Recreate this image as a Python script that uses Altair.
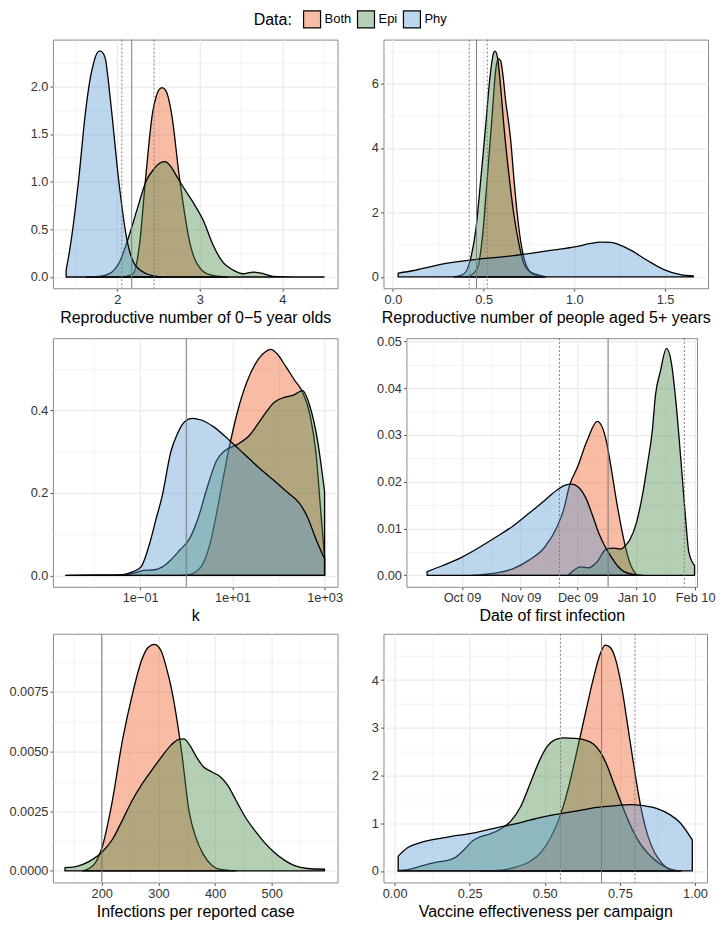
import json
import altair as alt
import pandas as pd

FONT = "Liberation Sans"
SERIES = ["Both", "Epi", "Phy"]
FILLS = {"Both": "#ed5519", "Epi": "#468746", "Phy": "#5798d4"}
LEGEND_FILLS = ["#f8bba3", "#b5cfb5", "#bcd6ee"]

# ---------------- Panel 1: Reproductive number of 0-5 year olds ----------------
p1_both_x = [2.062, 2.190, 2.270, 2.343, 2.427, 2.471, 2.507, 2.544, 2.591, 2.657, 2.755, 2.883, 3.029, 3.157, 3.339]
p1_both_y = [0.0, 0.034, 0.344, 1.031, 1.718, 1.890, 1.966, 1.986, 1.952, 1.718, 1.031, 0.344, 0.069, 0.017, 0.0]
p1_epi_x = [1.624, 1.807, 1.916, 2.026, 2.135, 2.245, 2.354, 2.445, 2.518, 2.580, 2.646, 2.719, 2.810, 2.938,
            3.047, 3.157, 3.266, 3.412, 3.522, 3.650, 3.777, 3.887, 4.252, 4.507]
p1_epi_y = [0.0, 0.010, 0.041, 0.155, 0.412, 0.722, 1.014, 1.134, 1.196, 1.210, 1.162, 1.058, 0.928, 0.756,
            0.584, 0.344, 0.172, 0.069, 0.034, 0.052, 0.034, 0.007, 0.001, 0.0]
p1_phy_x = [1.380, 1.405, 1.434, 1.533, 1.613, 1.668, 1.715, 1.752, 1.788, 1.832, 1.861, 1.891, 1.934, 2.015,
            2.128, 2.208, 2.354, 2.536]
p1_phy_y = [0.076, 0.19, 0.344, 1.031, 1.718, 2.062, 2.251, 2.344, 2.371, 2.344, 2.268, 2.062, 1.718, 1.031,
            0.344, 0.137, 0.034, 0.0]

# ---------------- Panel 2: Reproductive number of people aged 5+ ----------------
p2_both_x = [0.410, 0.465, 0.493, 0.520, 0.548, 0.566, 0.581, 0.594, 0.608, 0.621, 0.636, 0.649, 0.667, 0.686,
             0.704, 0.726, 0.750, 0.787, 0.833]
p2_both_y = [0.0, 0.25, 1.22, 3.05, 5.08, 6.40, 6.77, 6.70, 6.19, 5.48, 4.87, 4.26, 3.05, 1.93, 1.12, 0.51,
             0.20, 0.05, 0.0]
p2_epi_x = [0.336, 0.392, 0.428, 0.456, 0.483, 0.511, 0.535, 0.553, 0.562, 0.575, 0.594, 0.612, 0.640, 0.667,
            0.695, 0.722, 0.759, 0.796, 0.842]
p2_epi_y = [0.0, 0.10, 0.56, 1.42, 2.94, 4.67, 6.19, 6.90, 7.00, 6.85, 5.89, 4.67, 3.15, 1.93, 1.02, 0.41,
            0.15, 0.07, 0.0]
p2_phy_x = [0.029, 0.116, 0.208, 0.300, 0.392, 0.483, 0.575, 0.667, 0.759, 0.851, 0.943, 1.017, 1.090, 1.145,
            1.200, 1.256, 1.311, 1.403, 1.494, 1.586, 1.656]
p2_phy_y = [0.12, 0.20, 0.32, 0.43, 0.50, 0.56, 0.61, 0.66, 0.73, 0.81, 0.88, 0.95, 1.04, 1.08, 1.07, 0.98,
            0.83, 0.51, 0.23, 0.07, 0.03]

# ---------------- Panel 3: k (log scale) ----------------
p3_both_x = [0.734, 1.15, 2.11, 3.32, 5.22, 8.22, 12.9, 20.3, 32.0, 50.4, 68.1, 92.1, 145, 228, 332, 484, 655,
             822, 1000]
p3_both_y = [0.0, 0.002, 0.022, 0.079, 0.186, 0.301, 0.396, 0.466, 0.513, 0.540, 0.547, 0.537, 0.505, 0.471,
             0.444, 0.388, 0.293, 0.158, 0.044]
p3_epi_x = [0.00244, 0.0417, 0.0762, 0.120, 0.188, 0.297, 0.467, 0.734, 1.15, 1.81, 2.86, 4.49, 7.06, 12.9,
            23.6, 43.3, 79.1, 145, 211, 332, 484, 707, 1000]
p3_epi_y = [0.0, 0.0, 0.006, 0.012, 0.013, 0.020, 0.038, 0.062, 0.087, 0.139, 0.214, 0.277, 0.303, 0.317,
            0.339, 0.380, 0.418, 0.432, 0.436, 0.447, 0.408, 0.325, 0.202]
p3_phy_x = [0.00244, 0.0092, 0.0417, 0.0655, 0.103, 0.162, 0.219, 0.297, 0.467, 0.631, 0.920, 1.34, 2.11, 3.87,
            8.22, 17.5, 37.2, 79.1, 168, 286, 417, 655, 1000]
p3_phy_y = [0.0, 0.001, 0.002, 0.008, 0.020, 0.079, 0.135, 0.190, 0.301, 0.341, 0.372, 0.380, 0.376, 0.360,
            0.329, 0.295, 0.261, 0.230, 0.198, 0.174, 0.143, 0.087, 0.040]

# ---------------- Panel 4: Date of first infection (days after 1 Oct 2009) ----------------
p4_both_x = [5.0, 18.4, 26.8, 35.2, 43.6, 50.3, 53.6, 56.8, 61.0, 66.0, 71.4, 76.1, 78.6, 81.1, 83.6, 86.1,
             88.7, 92.0]
p4_both_y = [0.0, 0.0005, 0.0014, 0.0032, 0.0060, 0.0105, 0.0140, 0.0193, 0.0232, 0.0288, 0.0329, 0.0288,
             0.0232, 0.0169, 0.0112, 0.0063, 0.0025, 0.0001]
p4_epi_x = [56.0, 62.7, 66.9, 71.1, 76.1, 80.3, 83.6, 86.1, 88.7, 92.0, 95.4, 97.9, 100.4, 102.1, 104.6, 107.9,
            110.4, 113.0, 115.5, 118.0, 119.7, 122.7]
p4_epi_y = [0.0, 0.0018, 0.0016, 0.0028, 0.0056, 0.0058, 0.0056, 0.0063, 0.0077, 0.0112, 0.0176, 0.0239,
            0.0309, 0.0386, 0.0435, 0.0485, 0.0456, 0.0365, 0.0246, 0.0119, 0.0049, 0.0021]
p4_phy_x = [-18.4, -10.1, 0.0, 8.4, 18.4, 26.8, 35.2, 43.6, 50.3, 54.5, 57.7, 62.0, 65.4, 68.7, 72.1, 75.4,
            78.8, 82.1, 85.5, 90.5, 95.5]
p4_phy_y = [0.0008, 0.0021, 0.0039, 0.0058, 0.0083, 0.0105, 0.0132, 0.0160, 0.0183, 0.0193, 0.0195, 0.0186,
            0.0165, 0.0130, 0.0091, 0.0062, 0.0039, 0.0020, 0.0008, 0.0002, 0.0]

# ---------------- Panel 5: Infections per reported case ----------------
p5_both_x = [166.7, 178.2, 189.7, 201.1, 217.2, 236.8, 255.7, 270.1, 281.6, 293.1, 304.6, 316.1, 323.6, 340.8,
             354.0, 366.0, 379.3, 395.0, 410.0, 436.8]
p5_both_y = [0.0, 0.00011, 0.00038, 0.00103, 0.00274, 0.00549, 0.00754, 0.00878, 0.00933, 0.00946, 0.00919,
             0.00830, 0.00754, 0.00499, 0.00250, 0.00140, 0.00069, 0.00022, 0.00006, 0.0]
p5_epi_x = [135.1, 149.4, 166.7, 183.9, 201.1, 218.4, 235.6, 252.9, 270.1, 287.4, 304.6, 321.8, 336.2, 344.8,
            356.3, 367.8, 379.3, 393.7, 408.0, 422.4, 436.8, 454.0, 471.3, 488.5, 505.7, 523.0, 540.2, 563.2,
            593.1]
p5_epi_y = [0.00014, 0.00016, 0.00027, 0.00048, 0.00080, 0.00130, 0.00208, 0.00291, 0.00359, 0.00418, 0.00473,
            0.00524, 0.00549, 0.00551, 0.00521, 0.00473, 0.00435, 0.00414, 0.00395, 0.00357, 0.00295, 0.00222,
            0.00165, 0.00115, 0.00075, 0.00044, 0.00022, 0.00010, 0.00007]

# ---------------- Panel 6: Vaccine effectiveness per campaign ----------------
p6_both_x = [0.287, 0.342, 0.397, 0.453, 0.486, 0.519, 0.552, 0.579, 0.607, 0.635, 0.662, 0.684, 0.701, 0.717,
             0.734, 0.756, 0.778, 0.800, 0.822, 0.844, 0.866, 0.889, 0.911, 0.933, 0.949]
p6_both_y = [0.0, 0.01, 0.07, 0.21, 0.38, 0.69, 1.17, 1.75, 2.51, 3.30, 4.04, 4.54, 4.73, 4.69, 4.47, 3.85,
             2.96, 2.06, 1.27, 0.72, 0.38, 0.17, 0.05, 0.01, 0.0]
p6_epi_x = [0.012, 0.044, 0.077, 0.110, 0.143, 0.177, 0.204, 0.232, 0.259, 0.287, 0.320, 0.353, 0.386, 0.419,
            0.453, 0.480, 0.508, 0.535, 0.563, 0.596, 0.629, 0.662, 0.684, 0.706, 0.728, 0.751, 0.773, 0.795,
            0.817, 0.839, 0.861, 0.883, 0.905, 0.933, 0.955]
p6_epi_y = [0.01, 0.03, 0.08, 0.14, 0.19, 0.22, 0.29, 0.45, 0.63, 0.72, 0.78, 0.88, 1.04, 1.34, 1.86, 2.28,
            2.61, 2.75, 2.79, 2.78, 2.75, 2.66, 2.50, 2.23, 1.86, 1.48, 1.13, 0.82, 0.58, 0.40, 0.26, 0.15,
            0.07, 0.01, 0.0]
p6_phy_x = [0.012, 0.044, 0.088, 0.177, 0.265, 0.342, 0.397, 0.453, 0.508, 0.563, 0.618, 0.673, 0.740, 0.784,
            0.828, 0.872, 0.916, 0.949, 0.991]
p6_phy_y = [0.31, 0.49, 0.60, 0.71, 0.80, 0.91, 0.98, 1.07, 1.15, 1.21, 1.27, 1.33, 1.37, 1.39, 1.37, 1.31,
            1.18, 1.02, 0.65]

# ---------------- axes, domains, reference lines ----------------
PANELS = [
    dict(title="Reproductive number of 0\u22125 year olds",
         series=[("Both", p1_both_x, p1_both_y), ("Epi", p1_epi_x, p1_epi_y), ("Phy", p1_phy_x, p1_phy_y)],
         xdom=[1.22, 4.67], ydom=[-0.118, 2.49], xtype="linear",
         xmaj=[2, 3, 4], xlab=["2", "3", "4"], xmin=[1.5, 2.5, 3.5, 4.5],
         ymaj=[0, 0.5, 1.0, 1.5, 2.0], ylab=["0.0", "0.5", "1.0", "1.5", "2.0"],
         ymin=[0.25, 0.75, 1.25, 1.75, 2.25],
         solid=[2.175], dotted=[2.055, 2.446], width=285),
    dict(title="Reproductive number of people aged 5+ years",
         series=[("Both", p2_both_x, p2_both_y), ("Epi", p2_epi_x, p2_epi_y), ("Phy", p2_phy_x, p2_phy_y)],
         xdom=[-0.052, 1.737], ydom=[-0.35, 7.36], xtype="linear",
         xmaj=[0, 0.5, 1.0, 1.5], xlab=["0.0", "0.5", "1.0", "1.5"], xmin=[0.25, 0.75, 1.25],
         ymaj=[0, 2, 4, 6], ylab=["0", "2", "4", "6"], ymin=[1, 3, 5, 7],
         solid=[0.461], dotted=[0.421, 0.520], width=325),
    dict(title="k",
         series=[("Both", p3_both_x, p3_both_y), ("Epi", p3_epi_x, p3_epi_y), ("Phy", p3_phy_x, p3_phy_y)],
         xdom=[0.00128, 1910], ydom=[-0.0277, 0.574], xtype="log",
         xmaj=[0.1, 10, 1000], xlab=["1e\u221201", "1e+01", "1e+03"], xmin=[0.01, 1, 100],
         ymaj=[0, 0.2, 0.4], ylab=["0.0", "0.2", "0.4"], ymin=[0.1, 0.3, 0.5],
         solid=[1.0], dotted=[], width=285),
    dict(title="Date of first infection",
         series=[("Both", p4_both_x, p4_both_y), ("Epi", p4_epi_x, p4_epi_y), ("Phy", p4_phy_x, p4_phy_y)],
         xdom=[-29.3, 124.0], ydom=[-0.00246, 0.0507], xtype="linear",
         xmaj=[0, 31, 61, 92, 123], xlab=["Oct 09", "Nov 09", "Dec 09", "Jan 10", "Feb 10"],
         xmin=[-15, 15.5, 46, 76.5, 107.5],
         ymaj=[0, 0.01, 0.02, 0.03, 0.04, 0.05], ylab=["0.00", "0.01", "0.02", "0.03", "0.04", "0.05"],
         ymin=[0.005, 0.015, 0.025, 0.035, 0.045],
         solid=[77.1], dotted=[51.4, 117.3], width=291),
    dict(title="Infections per reported case",
         series=[("Both", p5_both_x, p5_both_y), ("Epi", p5_epi_x, p5_epi_y)],
         xdom=[113.8, 616.1], ydom=[-0.00048, 0.0099], xtype="linear",
         xmaj=[200, 300, 400, 500], xlab=["200", "300", "400", "500"], xmin=[150, 250, 350, 450, 550],
         ymaj=[0, 0.0025, 0.005, 0.0075], ylab=["0.0000", "0.0025", "0.0050", "0.0075"],
         ymin=[0.00125, 0.00375, 0.00625, 0.00875],
         solid=[200], dotted=[], width=285),
    dict(title="Vaccine effectiveness per campaign",
         series=[("Both", p6_both_x, p6_both_y), ("Epi", p6_epi_x, p6_epi_y), ("Phy", p6_phy_x, p6_phy_y)],
         xdom=[-0.037, 1.04], ydom=[-0.24, 4.97], xtype="linear",
         xmaj=[0, 0.25, 0.5, 0.75, 1.0], xlab=["0.00", "0.25", "0.50", "0.75", "1.00"],
         xmin=[0.125, 0.375, 0.625, 0.875],
         ymaj=[0, 1, 2, 3, 4], ylab=["0", "1", "2", "3", "4"], ymin=[0.5, 1.5, 2.5, 3.5, 4.5],
         solid=[0.689], dotted=[0.552, 0.800], width=324),
]

PANEL_H = 249


def label_expr(values, labels):
    expr = "''"
    for v, lab in reversed(list(zip(values, labels))):
        expr = f"datum.value == {v!r} ? '{lab}' : {expr}"
    return expr


def make_axis(major, labels, minor):
    test = f"indexof({json.dumps(minor)}, datum.value) >= 0"
    return alt.Axis(
        values=sorted(major + minor),
        labelExpr=label_expr(major, labels),
        labelOverlap=False,
        grid=True,
        gridColor="#ebebeb",
        gridWidth={"condition": {"test": test, "value": 0.6}, "value": 1.2},
        tickOpacity={"condition": {"test": test, "value": 0}, "value": 1},
    )


legend = alt.Legend(
    title="Data:", orient="none", legendX=201, legendY=-30, direction="horizontal",
    titleOrient="left", titleFontSize=16, titleFont=FONT, titleFontWeight="normal",
    titleColor="black", titlePadding=10,
    labelFontSize=13, labelFont=FONT, labelColor="black", labelOffset=3,
    columnPadding=3, symbolType="square", symbolSize=289,
    symbolStrokeColor="black", symbolStrokeWidth=1.2,
)


def panel(p, with_legend=False):
    xscale = alt.Scale(type=p["xtype"], domain=p["xdom"], nice=False, zero=False)
    yscale = alt.Scale(domain=p["ydom"], nice=False, zero=False)
    xaxis = make_axis(p["xmaj"], p["xlab"], p["xmin"])
    yaxis = make_axis(p["ymaj"], p["ylab"], p["ymin"])
    layers = []
    for name, xs, ys in p["series"]:
        df = pd.DataFrame({"x": xs, "y": ys, "Data": name})
        layers.append(
            alt.Chart(df).mark_area(
                interpolate="monotone", fill=FILLS[name], fillOpacity=0.4, stroke="black",
                strokeWidth=1.3, strokeJoin="round"
            ).encode(
                x=alt.X("x:Q", scale=xscale, axis=xaxis, title=p["title"]),
                y=alt.Y("y:Q", scale=yscale, axis=yaxis, title=None, stack=None),
            )
        )
    if p["solid"]:
        layers.append(
            alt.Chart(pd.DataFrame({"x": p["solid"]})).mark_rule(
                color="#7a7a7a", strokeWidth=1
            ).encode(x=alt.X("x:Q", scale=xscale, axis=xaxis, title=p["title"]))
        )
    if p["dotted"]:
        layers.append(
            alt.Chart(pd.DataFrame({"x": p["dotted"]})).mark_rule(
                color="#7a7a7a", strokeWidth=1, strokeDash=[2, 2]
            ).encode(x=alt.X("x:Q", scale=xscale, axis=xaxis, title=p["title"]))
        )
    if with_legend:
        # key layer without drawn marks; it only carries the legend
        layers.append(
            alt.Chart(pd.DataFrame({"Data": SERIES})).transform_filter("false").mark_square(
                opacity=1, stroke="black", strokeWidth=1.2
            ).encode(
                fill=alt.Fill("Data:N", scale=alt.Scale(domain=SERIES, range=LEGEND_FILLS), legend=legend),
            )
        )
    return alt.layer(*layers).properties(width=p["width"], height=PANEL_H)


charts = [panel(p, with_legend=(i == 0)) for i, p in enumerate(PANELS)]
rows = [alt.hconcat(charts[i], charts[i + 1], spacing=32) for i in (0, 2, 4)]

chart = alt.vconcat(*rows, spacing=8).properties(
    padding={"left": 0, "top": 1, "right": 0, "bottom": 1}
).configure(
    font=FONT
).configure_view(
    stroke="#8a8a8a", strokeWidth=1
).configure_axis(
    domain=False, tickColor="#555555", tickSize=3, tickWidth=1,
    labelColor="#333333", labelFontSize=12.8, labelFont=FONT, labelPadding=2,
    titleFont=FONT, titleFontSize=16, titleFontWeight="normal", titleColor="black",
    titlePadding=3,
)

chart.save("out.html", embed_options={"renderer": "svg", "actions": False})
